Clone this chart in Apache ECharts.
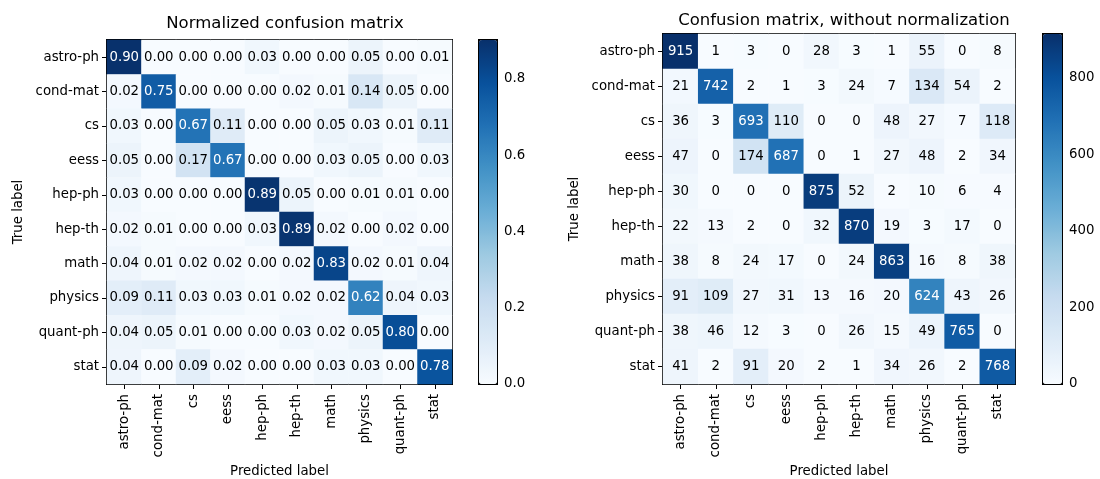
<!DOCTYPE html>
<html>
<head>
<meta charset="utf-8">
<script src="https://cdn.jsdelivr.net/npm/echarts@6/dist/echarts.min.js"></script>
<style>
html,body{margin:0;padding:0;background:#fff;}
#chart{width:1100px;height:479px;}
</style>
</head>
<body>
<div id="chart"></div>
<script>
const categories = ['astro-ph','cond-mat','cs','eess','hep-ph','hep-th','math','physics','quant-ph','stat'];

const normValues = [
  [0.90,0.00,0.00,0.00,0.03,0.00,0.00,0.05,0.00,0.01],
  [0.02,0.75,0.00,0.00,0.00,0.02,0.01,0.14,0.05,0.00],
  [0.03,0.00,0.67,0.11,0.00,0.00,0.05,0.03,0.01,0.11],
  [0.05,0.00,0.17,0.67,0.00,0.00,0.03,0.05,0.00,0.03],
  [0.03,0.00,0.00,0.00,0.89,0.05,0.00,0.01,0.01,0.00],
  [0.02,0.01,0.00,0.00,0.03,0.89,0.02,0.00,0.02,0.00],
  [0.04,0.01,0.02,0.02,0.00,0.02,0.83,0.02,0.01,0.04],
  [0.09,0.11,0.03,0.03,0.01,0.02,0.02,0.62,0.04,0.03],
  [0.04,0.05,0.01,0.00,0.00,0.03,0.02,0.05,0.80,0.00],
  [0.04,0.00,0.09,0.02,0.00,0.00,0.03,0.03,0.00,0.78]
];

const countValues = [
  [915,1,3,0,28,3,1,55,0,8],
  [21,742,2,1,3,24,7,134,54,2],
  [36,3,693,110,0,0,48,27,7,118],
  [47,0,174,687,0,1,27,48,2,34],
  [30,0,0,0,875,52,2,10,6,4],
  [22,13,2,0,32,870,19,3,17,0],
  [38,8,24,17,0,24,863,16,8,38],
  [91,109,27,31,13,16,20,624,43,26],
  [38,46,12,3,0,26,15,49,765,0],
  [41,2,91,20,2,1,34,26,2,768]
];

const normMax = 0.9024;
const countMax = 915;
const normTicks = [0, 0.2, 0.4, 0.6, 0.8];
const countTicks = [0, 200, 400, 600, 800];

const blues = ['#f7fbff','#deebf7','#c6dbef','#9ecae1','#6baed6','#4292c6','#2171b5','#08519c','#08306b'];
const FONT = 'DejaVu Sans';
const FS = 13.3;

function buildData(values, max) {
  const out = [];
  const thresh = max / 2;
  values.forEach((row, r) => {
    row.forEach((v, c) => {
      out.push({
        value: [c, r, v],
        label: {color: v > thresh ? '#ffffff' : '#000000'}
      });
    });
  });
  return out;
}

const catAxisCommon = {
  type: 'category',
  data: categories,
  axisLine: {show: true, lineStyle: {color: '#000', width: 1}},
  axisTick: {show: true, alignWithLabel: true, length: 5, lineStyle: {color: '#000'}},
  splitLine: {show: false},
  splitArea: {show: false},
  nameTextStyle: {fontFamily: FONT, fontSize: FS, color: '#000'}
};

function xCat(gridIndex, gap) {
  return Object.assign({}, catAxisCommon, {
    gridIndex: gridIndex,
    position: 'bottom',
    axisLabel: {rotate: 90, margin: 10, fontFamily: FONT, fontSize: FS, color: '#000'},
    name: 'Predicted label',
    nameLocation: 'middle',
    nameGap: gap
  });
}
function yCat(gridIndex) {
  return Object.assign({}, catAxisCommon, {
    gridIndex: gridIndex,
    inverse: true,
    position: 'left',
    axisLabel: {margin: 8, fontFamily: FONT, fontSize: FS, color: '#000'},
    name: 'True label',
    nameLocation: 'middle',
    nameRotate: 90,
    nameGap: 82
  });
}
function cbY(gridIndex, max, interval, digits) {
  return {
    type: 'value',
    gridIndex: gridIndex,
    min: 0,
    max: max,
    interval: interval,
    position: 'right',
    axisLine: {show: true, lineStyle: {color: '#000'}},
    axisTick: {show: true, length: 5, lineStyle: {color: '#000'}},
    axisLabel: {margin: 7, fontFamily: FONT, fontSize: FS, color: '#000', showMaxLabel: false,
      formatter: v => v.toFixed(digits)},
    splitLine: {show: false}
  };
}

const gridBorder = {show: true, borderColor: '#000', borderWidth: 2, backgroundColor: 'transparent',
  containLabel: false, outerBoundsMode: 'none'};

const option = {
  backgroundColor: '#ffffff',
  animation: false,
  textStyle: {fontFamily: FONT},
  title: [
    {text: 'Normalized confusion matrix', left: 280, top: 10, textAlign: 'center',
      textStyle: {fontFamily: FONT, fontSize: 16.5, fontWeight: 'normal', color: '#000'}},
    {text: 'Confusion matrix, without normalization', left: 839, top: 7, textAlign: 'center',
      textStyle: {fontFamily: FONT, fontSize: 16.5, fontWeight: 'normal', color: '#000'}}
  ],
  grid: [
    Object.assign({left: 107, top: 40, width: 345, height: 344}, gridBorder),
    Object.assign({left: 663, top: 34, width: 352, height: 350}, gridBorder),
    Object.assign({left: 479, top: 40, width: 18, height: 344}, gridBorder),
    Object.assign({left: 1043, top: 34, width: 19, height: 350}, gridBorder)
  ],
  xAxis: [
    xCat(0, 80),
    xCat(1, 81),
    {type: 'value', gridIndex: 2, show: false, min: 0, max: 1},
    {type: 'value', gridIndex: 3, show: false, min: 0, max: 1}
  ],
  yAxis: [
    yCat(0),
    yCat(1),
    cbY(2, normMax, normTicks[1] - normTicks[0], 1),
    cbY(3, countMax, countTicks[1] - countTicks[0], 0)
  ],
  visualMap: [
    {type: 'continuous', seriesIndex: 0, min: 0, max: normMax, calculable: false, show: true,
      left: 479, top: 40, itemWidth: 18, itemHeight: 344, padding: 0, text: null, hoverLink: false,
      inRange: {color: blues}},
    {type: 'continuous', seriesIndex: 1, min: 0, max: countMax, calculable: false, show: true,
      left: 1043, top: 34, itemWidth: 19, itemHeight: 350, padding: 0, text: null, hoverLink: false,
      inRange: {color: blues}}
  ],
  series: [
    {type: 'heatmap', xAxisIndex: 0, yAxisIndex: 0, data: buildData(normValues, normMax),
      label: {show: true, fontFamily: FONT, fontSize: FS, formatter: p => p.value[2].toFixed(2)},
      itemStyle: {borderWidth: 0}},
    {type: 'heatmap', xAxisIndex: 1, yAxisIndex: 1, data: buildData(countValues, countMax),
      label: {show: true, fontFamily: FONT, fontSize: FS, formatter: p => String(p.value[2])},
      itemStyle: {borderWidth: 0}}
  ]
};

const chart = echarts.init(document.getElementById('chart'), null, {renderer: 'canvas'});
chart.setOption(option);
</script>
</body>
</html>
